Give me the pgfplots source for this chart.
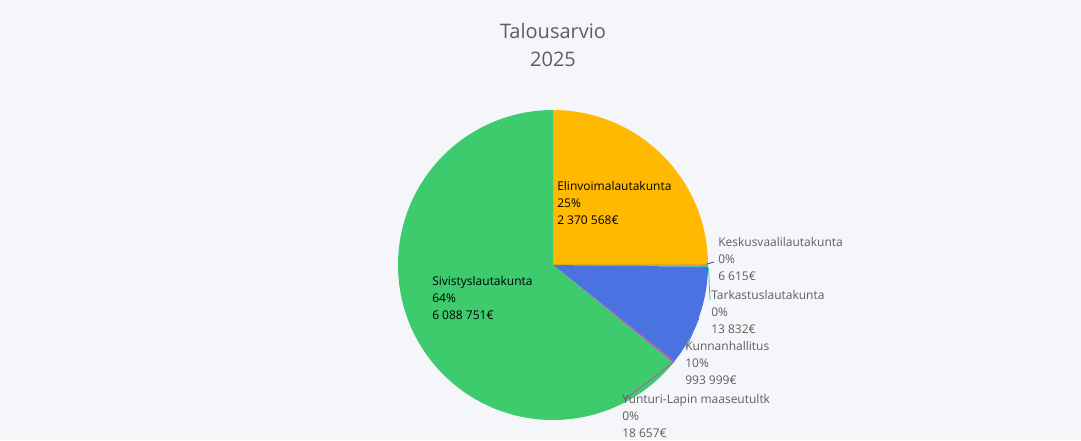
\documentclass[border=0pt]{standalone}
\usepackage{pgfplots}
\pgfplotsset{compat=1.18}
\usepackage{pgfplotstable}
\usepackage{fontspec}
\setmainfont{Open Sans}

\definecolor{bgcol}{HTML}{F5F6FA}
\definecolor{txtgray}{HTML}{605E5C}
\definecolor{col0}{HTML}{FFB900}
\definecolor{col1}{HTML}{3B4A6B}
\definecolor{col2}{HTML}{2EC4B6}
\definecolor{col3}{HTML}{4A72E0}
\definecolor{col4}{HTML}{C44BBF}
\definecolor{col5}{HTML}{3DCB6E}

% talousarvio 2025, euroa (myotapaivaan alkaen 12:sta)
\pgfplotstableread{
value
2370568
6615
13832
993999
18657
6088751
}\budget

% kulmat
\def\total{0}
\pgfplotsforeachungrouped \i in {0,...,5}{%
  \pgfplotstablegetelem{\i}{value}\of\budget
  \edef\total{\fpeval{\total+\pgfplotsretval}}%
}
\def\cum{0}
\pgfplotsforeachungrouped \i in {0,...,5}{%
  \pgfplotstablegetelem{\i}{value}\of\budget
  \expandafter\edef\csname start\i\endcsname{\fpeval{90-360*\cum/\total}}%
  \edef\cum{\fpeval{\cum+\pgfplotsretval}}%
  \expandafter\edef\csname end\i\endcsname{\fpeval{90-360*\cum/\total}}%
}

\def\R{116.25pt}

\begin{document}
\begin{tikzpicture}
\begin{axis}[
    width=810.75pt, height=330pt,
    scale only axis,
    xmin=0, xmax=1081, ymin=0, ymax=440,
    hide axis,
    clip=false,
]
    \fill[bgcol] (axis cs:0,0) rectangle (axis cs:1081,440);

    % sektorit
    \pgfplotsinvokeforeach{0,...,5}{
      \fill[col#1] (axis cs:553,175) -- ++(\csname start#1\endcsname:\R)
        arc[start angle=\csname start#1\endcsname, end angle=\csname end#1\endcsname, radius=\R] -- cycle;
    }

    % otsikko
    \node[font=\fontsize{15}{21}\selectfont, text=txtgray, align=center, anchor=north]
        at (axis cs:553,421) {Talousarvio\\2025};

    % selitelinjat
    \draw[col1, line width=0.6pt] (axis cs:707,176) -- (axis cs:714,178);
    \draw[col2, line width=0.6pt] (axis cs:708.5,172) -- (axis cs:710,140);
    \draw[col3, line width=0.6pt] (axis cs:699,122) -- (axis cs:686,92);
    \draw[col4, line width=0.6pt] (axis cs:674,78) -- (axis cs:624,40);

    % tekstit
    \tikzset{lbl/.style={font=\fontsize{9}{12.75}\selectfont, align=left, anchor=north west, inner sep=0pt}}
    \node[lbl, text=black] at (axis cs:557,259) {Elinvoimalautakunta\\25\%\\2 370 568€};
    \node[lbl, text=black] at (axis cs:432,164) {Sivistyslautakunta\\64\%\\6 088 751€};
    \node[lbl, text=txtgray] at (axis cs:718,203) {Keskusvaalilautakunta\\0\%\\6 615€};
    \node[lbl, text=txtgray] at (axis cs:711,150) {Tarkastuslautakunta\\0\%\\13 832€};
    \node[lbl, text=txtgray] at (axis cs:685,99) {Kunnanhallitus\\10\%\\993 999€};
    \node[lbl, text=txtgray] at (axis cs:622,46) {Yunturi-Lapin maaseutultk\\0\%\\18 657€};
\end{axis}
\end{tikzpicture}
\end{document}
